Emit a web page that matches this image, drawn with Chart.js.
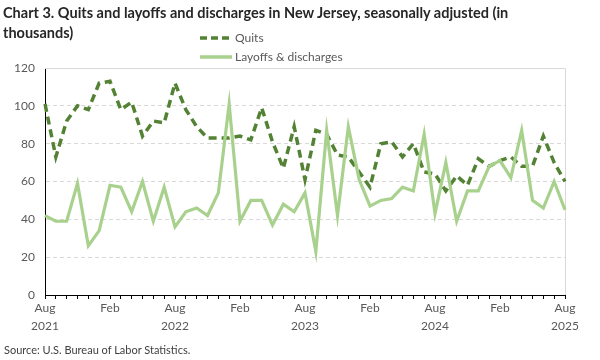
<!DOCTYPE html>
<html>
<head>
<meta charset="utf-8">
<script src="https://cdn.jsdelivr.net/npm/chart.js@4.4.1/dist/chart.umd.min.js"></script>
<style>
    body { margin: 0; background: #fff; font-family: Lato, "Open Sans", sans-serif; }
    #quadro { position: relative; width: 600px; height: 360px; }
    #titulo { position: absolute; left: 3px; top: 3px; font-weight: bold; font-size: 14.5px; line-height: 20px; color: #262626; white-space: nowrap; }
    #legenda { position: absolute; left: 200px; top: 28px; font-size: 12px; color: #595959; }
    #legenda .item { display: flex; align-items: center; height: 19px; }
    #legenda svg { margin-right: 3px; }
    #fonte { position: absolute; left: 4px; top: 343px; font-size: 11px; color: #404040; }
    #grafico { position: absolute; left: 0; top: 0; }
</style>
</head>
<body>
<div id="quadro">
    <canvas id="grafico" width="600" height="360"></canvas>
    <div id="titulo">Chart 3. Quits and layoffs and discharges in New Jersey, seasonally adjusted (in<br>thousands)</div>
    <div id="legenda"></div>
    <div id="fonte">Source: U.S. Bureau of Labor Statistics.</div>
</div>
<script>
// Meses (agosto 2021 a agosto 2025)
const meses = [
    'Aug 2021', 'Sep 2021', 'Oct 2021', 'Nov 2021', 'Dec 2021',
    'Jan 2022', 'Feb 2022', 'Mar 2022', 'Apr 2022', 'May 2022', 'Jun 2022', 'Jul 2022', 'Aug 2022', 'Sep 2022', 'Oct 2022', 'Nov 2022', 'Dec 2022',
    'Jan 2023', 'Feb 2023', 'Mar 2023', 'Apr 2023', 'May 2023', 'Jun 2023', 'Jul 2023', 'Aug 2023', 'Sep 2023', 'Oct 2023', 'Nov 2023', 'Dec 2023',
    'Jan 2024', 'Feb 2024', 'Mar 2024', 'Apr 2024', 'May 2024', 'Jun 2024', 'Jul 2024', 'Aug 2024', 'Sep 2024', 'Oct 2024', 'Nov 2024', 'Dec 2024',
    'Jan 2025', 'Feb 2025', 'Mar 2025', 'Apr 2025', 'May 2025', 'Jun 2025', 'Jul 2025', 'Aug 2025'
];

const quits = [
    101, 73, 92, 100, 98,
    112, 113, 98, 102, 84, 92, 91, 112, 98, 89, 83, 83,
    83, 84, 82, 99, 81, 67, 89, 61, 87, 85, 74, 73,
    65, 57, 80, 81, 73, 80, 65, 64, 55, 63, 58, 72,
    68, 71, 73, 68, 68, 84, 70, 60
];

const layoffs = [
    42, 39, 39, 59, 26,
    34, 58, 57, 44, 60, 39, 57, 36, 44, 46, 42, 54,
    101, 39, 50, 50, 37, 48, 44, 54, 23, 87, 42, 89,
    61, 47, 50, 51, 57, 55, 85, 43, 70, 39, 55, 55,
    68, 71, 62, 87, 50, 46, 60, 45
];

// Rótulos do eixo X (a cada 6 meses)
const rotulosX = {
    'Aug 2021': ['Aug', '2021'], 'Feb 2022': 'Feb',
    'Aug 2022': ['Aug', '2022'], 'Feb 2023': 'Feb',
    'Aug 2023': ['Aug', '2023'], 'Feb 2024': 'Feb',
    'Aug 2024': ['Aug', '2024'], 'Feb 2025': 'Feb',
    'Aug 2025': ['Aug', '2025']
};

const corQuits = '#548235';
const corLayoffs = '#a9d18e';

// Borda cinza no topo e à direita da área do gráfico
const bordaArea = {
    id: 'bordaArea',
    beforeDatasetsDraw(chart) {
        const { ctx, chartArea } = chart;
        ctx.save();
        ctx.strokeStyle = '#d9d9d9';
        ctx.lineWidth = 1;
        ctx.beginPath();
        ctx.moveTo(chartArea.left, chartArea.top + 0.5);
        ctx.lineTo(chartArea.right + 0.5, chartArea.top + 0.5);
        ctx.lineTo(chartArea.right + 0.5, chartArea.bottom);
        ctx.stroke();
        ctx.restore();
    }
};

const ctx = document.getElementById('grafico').getContext('2d');
const grafico = new Chart(ctx, {
    type: 'line',
    data: {
        labels: meses,
        datasets: [{
            label: 'Quits',
            data: quits,
            borderColor: corQuits,
            borderWidth: 3.5,
            borderDash: [8, 5],
            pointRadius: 0,
            tension: 0,
            order: 1
        }, {
            label: 'Layoffs & discharges',
            data: layoffs,
            borderColor: corLayoffs,
            borderWidth: 3.2,
            pointRadius: 0,
            tension: 0,
            order: 0
        }]
    },
    options: {
        responsive: false,
        animation: false,
        layout: { padding: { top: 68, right: 35, left: 0, bottom: 25 } },
        plugins: {
            legend: { display: false },
            tooltip: { enabled: false }
        },
        scales: {
            x: {
                type: 'category',
                offset: false,
                afterFit: function(scale) { scale.height = 40; },
                grid: { drawOnChartArea: false, drawTicks: true, tickLength: 4, color: '#000' },
                border: { display: true, color: '#000', width: 1 },
                ticks: {
                    autoSkip: false,
                    maxRotation: 0,
                    padding: 0,
                    color: '#595959',
                    font: { family: 'Lato', size: 12, lineHeight: 1.5 },
                    callback: function(valor, indice) {
                        const r = rotulosX[meses[indice]];
                        return r ? r : '';
                    }
                }
            },
            y: {
                min: 0,
                max: 120,
                afterFit: function(scale) { scale.width = 45; },
                grid: { color: '#d9d9d9', drawTicks: false },
                border: { display: true, color: '#000', width: 1, dash: [4, 3] },
                ticks: {
                    stepSize: 20,
                    padding: 10,
                    color: '#595959',
                    font: { family: 'Lato', size: 12 }
                }
            }
        }
    },
    plugins: [bordaArea]
});

// Legenda em HTML, montada a partir dos datasets
function montarLegenda() {
    const legendaDiv = document.getElementById('legenda');
    legendaDiv.innerHTML = '';
    grafico.data.datasets.forEach(ds => {
        const tracejado = ds.borderDash ? 'stroke-dasharray="7,4"' : '';
        const item = document.createElement('div');
        item.className = 'item';
        item.innerHTML = `
            <svg width="32" height="6"><line x1="0" y1="3" x2="32" y2="3" stroke="${ds.borderColor}" stroke-width="3.5" ${tracejado}/></svg>
            <span>${ds.label}</span>
        `;
        legendaDiv.appendChild(item);
    });
}
montarLegenda();
</script>
</body>
</html>
